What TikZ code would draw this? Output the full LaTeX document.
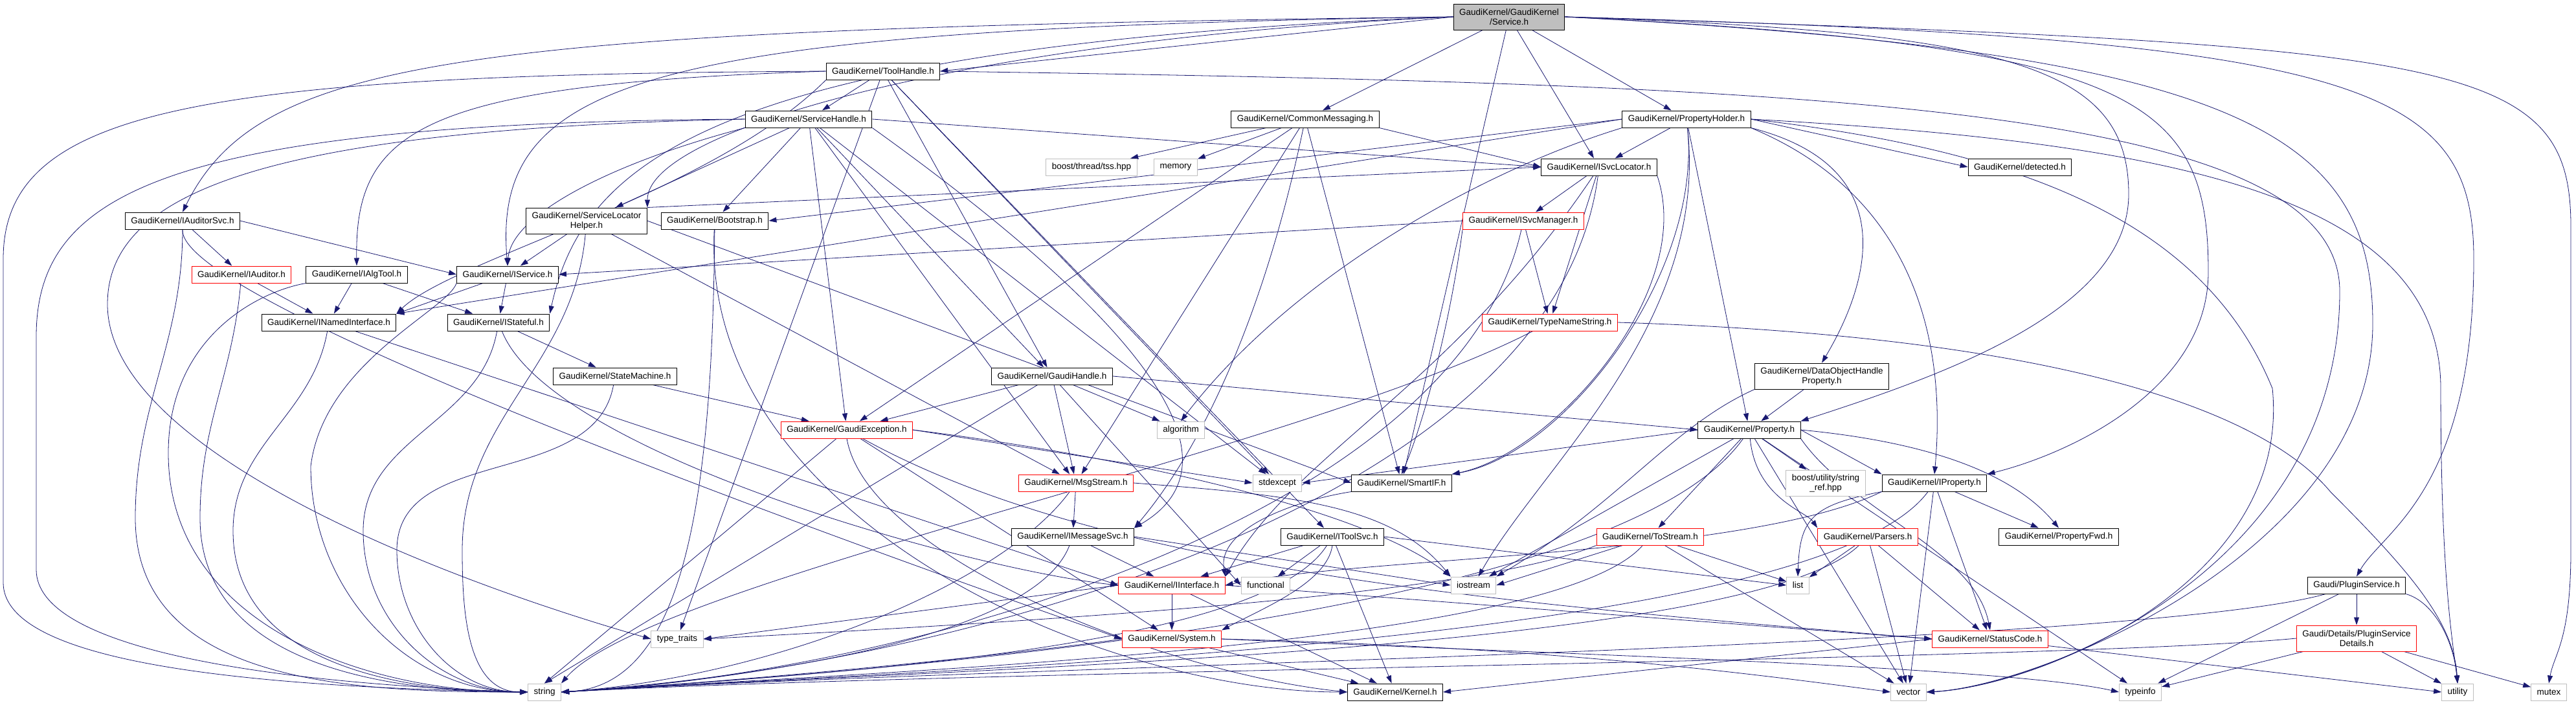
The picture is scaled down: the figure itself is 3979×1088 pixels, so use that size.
\documentclass[tikz,border=0pt]{standalone}
\usepackage{fontspec}
\setmainfont{Liberation Sans}
\usetikzlibrary{arrows.meta}
\definecolor{inclblue}{RGB}{25,25,112}
\definecolor{sysgray}{RGB}{191,191,191}
\pgfdeclarelayer{bg}
\pgfsetlayers{bg,main}

\tikzset{
  hfile/.style={draw=black, line width=1pt, rectangle, fill=white, align=center,
    font=\fontsize{13.5}{15}\selectfont, inner xsep=9pt, inner ysep=0pt, minimum height=26pt},
  sysfile/.style={hfile, draw=sysgray},
  cutfile/.style={hfile, draw=red},
  rootfile/.style={hfile, fill=sysgray},
  twoline/.style={minimum height=40pt},
  incl/.style={draw=inclblue, line width=0.8pt, -{Triangle[length=12pt,width=8pt]}},
}

\begin{document}
\begin{tikzpicture}[x=1pt, y=-1pt]
\useasboundingbox (0,0) rectangle (3979,1088);

% rank 0-2
\node[rootfile, twoline] (svc) at (2331,26) {GaudiKernel/GaudiKernel\\/Service.h};
\node[hfile] (toolh) at (1364,110) {GaudiKernel/ToolHandle.h};
\node[hfile] (svch) at (1249,184) {GaudiKernel/ServiceHandle.h};
\node[hfile] (cmsg) at (2016,184) {GaudiKernel/CommonMessaging.h};
\node[hfile] (prph) at (2605,184) {GaudiKernel/PropertyHolder.h};

% rank 3-4
\node[sysfile] (tss) at (1686,258) {boost/thread/tss.hpp};
\node[sysfile] (memory) at (1816,258) {memory};
\node[hfile] (isvcloc) at (2470,258) {GaudiKernel/ISvcLocator.h};
\node[hfile] (detected) at (3120,258) {GaudiKernel/detected.h};
\node[hfile] (auditsvc) at (282,341) {GaudiKernel/IAuditorSvc.h};
\node[hfile, twoline] (slh) at (906,341) {GaudiKernel/ServiceLocator\\Helper.h};
\node[hfile] (boot) at (1104,341) {GaudiKernel/Bootstrap.h};
\node[cutfile] (isvcman) at (2353,341) {GaudiKernel/ISvcManager.h};

% rank 5-6
\node[cutfile] (iauditor) at (373,424) {GaudiKernel/IAuditor.h};
\node[hfile] (ialgtool) at (551,424) {GaudiKernel/IAlgTool.h};
\node[hfile] (iservice) at (784,424) {GaudiKernel/IService.h};
\node[hfile] (inamed) at (508,498) {GaudiKernel/INamedInterface.h};
\node[hfile] (istateful) at (770,498) {GaudiKernel/IStateful.h};
\node[cutfile] (typens) at (2394,498) {GaudiKernel/TypeNameString.h};

% rank 7-8
\node[hfile] (statem) at (950,581) {GaudiKernel/StateMachine.h};
\node[hfile] (gaudih) at (1625,581) {GaudiKernel/GaudiHandle.h};
\node[hfile, twoline] (dohp) at (2814,581) {GaudiKernel/DataObjectHandle\\Property.h};
\node[cutfile] (gexc) at (1308,664) {GaudiKernel/GaudiException.h};
\node[sysfile] (algorithm) at (1824,664) {algorithm};
\node[hfile] (property) at (2702,664) {GaudiKernel/Property.h};

% rank 9-10
\node[cutfile] (msgs) at (1662,746) {GaudiKernel/MsgStream.h};
\node[sysfile] (stdexcept) at (1973,746) {stdexcept};
\node[hfile] (smartif) at (2165,746) {GaudiKernel/SmartIF.h};
\node[sysfile, twoline] (strref) at (2820,746) {boost/utility/string\\\_ref.hpp};
\node[hfile] (iprop) at (2988,746) {GaudiKernel/IProperty.h};
\node[hfile] (imsgsvc) at (1657,829) {GaudiKernel/IMessageSvc.h};
\node[hfile] (itoolsvc) at (2058,829) {GaudiKernel/IToolSvc.h};
\node[cutfile] (tostream) at (2549,829) {GaudiKernel/ToStream.h};
\node[cutfile] (parsers) at (2885,829) {GaudiKernel/Parsers.h};
\node[hfile] (propfwd) at (3180,829) {GaudiKernel/PropertyFwd.h};

% rank 11-13
\node[cutfile] (iinterface) at (1810,904) {GaudiKernel/IInterface.h};
\node[sysfile] (functional) at (1955,904) {functional};
\node[sysfile] (iostream) at (2276,904) {iostream};
\node[sysfile] (list) at (2777,904) {list};
\node[hfile] (pluginsvc) at (3640,904) {Gaudi/PluginService.h};
\node[sysfile] (typetraits) at (1046,987) {type\_traits};
\node[cutfile] (system) at (1810,987) {GaudiKernel/System.h};
\node[cutfile] (statuscode) at (3074,987) {GaudiKernel/StatusCode.h};
\node[cutfile, twoline] (plugindet) at (3640,986) {Gaudi/Details/PluginService\\Details.h};
\node[sysfile] (string) at (841,1069) {string};
\node[hfile] (kernel) at (2155,1069) {GaudiKernel/Kernel.h};
\node[sysfile] (vector) at (2948,1069) {vector};
\node[sysfile] (typeinfo) at (3306,1069) {typeinfo};
\node[sysfile] (utility) at (3796,1069) {utility};
\node[sysfile] (mutex) at (3937,1069) {mutex};

\begin{pgfonlayer}{bg}
% Service.h
\draw[incl] (svc.west) -- (toolh.east);
\draw[incl] (svc) -- (cmsg);
\draw[incl] (svc) -- (prph);
\draw[incl] (svc) -- (isvcloc);
\draw[incl] (svc) -- (smartif);
\draw[incl] (svc.west) .. controls (700,45) and (400,90) .. (auditsvc.north);
\draw[incl] (svc.west) .. controls (1000,45) and (760,120) .. (iservice.north);
\draw[incl] (svc.west) .. controls (1100,70) and (900,250) .. (istateful.north east);
\draw[incl] (svc.west) .. controls (1500,60) and (1000,200) .. (slh.north east);
\draw[incl] (svc.east) .. controls (3100,50) and (3288,100) .. (3288,300) .. controls (3288,480) and (3000,580) .. (property.north east);
\draw[incl] (svc.east) .. controls (3300,70) and (3411,150) .. (3411,420) .. controls (3411,600) and (3200,700) .. (iprop.north east);
\draw[incl] (svc.east) .. controls (3450,80) and (3665,200) .. (3665,500) .. controls (3665,850) and (3150,1060) .. (vector.east);
\draw[incl] (svc.east) .. controls (3650,60) and (3821,130) .. (3821,400) .. controls (3821,760) and (3680,820) .. (pluginsvc.north);
\draw[incl] (svc.east) .. controls (3800,70) and (3971,90) .. (3971,350) -- (3971,850) .. controls (3971,990) and (3945,1010) .. (mutex.north);

% ToolHandle.h
\draw[incl] (toolh) -- (svch);
\draw[incl] (toolh.west) .. controls (650,130) and (548,200) .. (ialgtool.north);
\draw[incl] (toolh.west) .. controls (300,115) and (5,170) .. (5,400) -- (5,900) .. controls (5,1010) and (300,1060) .. (string.west);
\draw[incl] (toolh) -- (gaudih);
\draw[incl] (toolh) -- (itoolsvc);
\draw[incl] (toolh.south west) .. controls (1100,300) and (700,400) .. (inamed.north east);
\draw[incl] (toolh) -- (stdexcept);
\draw[incl] (toolh) -- (typetraits);
\draw[incl] (toolh.east) .. controls (2800,130) and (3614,160) .. (3614,450) .. controls (3614,880) and (3150,1060) .. (vector.east);

% ServiceHandle.h
\draw[incl] (svch) -- (boot);
\draw[incl] (svch) -- (slh);
\draw[incl] (svch) -- (gaudih);
\draw[incl] (svch) -- (gexc);
\draw[incl] (svch) -- (msgs);
\draw[incl] (svch.south east) .. controls (1700,450) and (1950,700) .. (imsgsvc.north east);
\draw[incl] (svch.east) -- (isvcloc.west);
\draw[incl] (svch.south west) .. controls (950,250) and (790,330) .. (iservice.north);
\draw[incl] (svch) -- (stdexcept);
\draw[incl] (svch.west) .. controls (250,190) and (56,300) .. (56,520) -- (56,880) .. controls (56,1000) and (400,1055) .. (string.west);
\draw[incl] (svch.west) .. controls (400,200) and (166,300) .. (166,470) .. controls (166,700) and (700,900) .. (typetraits.west);

% CommonMessaging.h
\draw[incl] (cmsg) -- (tss);
\draw[incl] (cmsg) -- (memory);
\draw[incl] (cmsg.south east) -- (isvcloc.west);
\draw[incl] (cmsg) -- (gexc);
\draw[incl] (cmsg) -- (msgs);
\draw[incl] (cmsg) .. controls (1950,500) and (1850,700) .. (imsgsvc.north east);
\draw[incl] (cmsg) -- (smartif);

% PropertyHolder.h
\draw[incl] (prph) -- (isvcloc);
\draw[incl] (prph.east) -- (detected.west);
\draw[incl] (prph.south east) .. controls (2950,260) and (2880,450) .. (dohp.north);
\draw[incl] (prph) -- (property);
\draw[incl] (prph.south east) .. controls (3000,320) and (3000,600) .. (iprop.north);
\draw[incl] (prph.west) -- (boot.east);
\draw[incl] (prph.west) -- (inamed.north east);
\draw[incl] (prph.south west) .. controls (2300,260) and (2000,420) .. (algorithm.north);
\draw[incl] (prph) .. controls (2640,500) and (2380,720) .. (iostream);
\draw[incl] (prph) .. controls (2630,420) and (2420,700) .. (smartif.north east);
\draw[incl] (prph.east) .. controls (3350,220) and (3770,300) .. (3770,600) .. controls (3770,900) and (3790,1000) .. (utility.north);
\draw[incl] (prph.east) .. controls (3100,230) and (3400,330) .. (3510,600) .. controls (3540,900) and (3150,1060) .. (vector.east);

% ISvcLocator.h, ISvcManager.h
\draw[incl] (isvcloc) -- (isvcman);
\draw[incl] (isvcloc) -- (typens);
\draw[incl] (isvcloc.south east) .. controls (2620,450) and (2400,700) .. (smartif.north east);
\draw[incl] (isvcloc) .. controls (2240,600) and (2000,700) .. (iinterface.north east);
\draw[incl] (isvcloc) .. controls (2400,800) and (1400,1040) .. (string.east);
\draw[incl] (isvcman.west) -- (iservice.east);
\draw[incl] (isvcman) -- (typens);
\draw[incl] (isvcman.south west) .. controls (2240,500) and (2200,650) .. (smartif.north);
\draw[incl] (isvcman) .. controls (2250,800) and (1400,1040) .. (string.east);

% IAuditorSvc.h and the interfaces
\draw[incl] (auditsvc) -- (iauditor);
\draw[incl] (auditsvc.east) -- (iservice.west);
\draw[incl] (auditsvc) to[out=-90,in=90] (209,800) to[out=-90,in=180] (string.west);
\draw[incl] (auditsvc.south) .. controls (275,450) and (1000,730) .. (system.west);
\draw[incl] (iauditor) -- (inamed);
\draw[incl] (iauditor) to[out=-95,in=90] (309,800) to[out=-90,in=180] (string.west);
\draw[incl] (ialgtool) -- (inamed);
\draw[incl] (ialgtool) -- (istateful);
\draw[incl] (ialgtool.south west) .. controls (400,450) and (260,520) .. (260,700) to[out=-90,in=180] (string.west);
\draw[incl] (iservice) -- (inamed.north east);
\draw[incl] (iservice) -- (istateful);
\draw[incl] (iservice.south west) .. controls (690,480) and (500,560) .. (480,720) to[out=-90,in=180] (string.west);
\draw[incl] (inamed) -- (iinterface.west);
\draw[incl] (inamed) to[out=-100,in=90] (360,820) to[out=-90,in=180] (string.west);
\draw[incl] (istateful) -- (statem);
\draw[incl] (istateful) .. controls (850,700) and (1500,880) .. (iinterface.west);
\draw[incl] (istateful) to[out=-100,in=90] (561,820) to[out=-90,in=180] (string.west);
\draw[incl] (statem) -- (gexc);
\draw[incl] (statem) to[out=-100,in=90] (613,850) to[out=-90,in=180] (string.west);

% Bootstrap.h, ServiceLocatorHelper.h, TypeNameString.h
\draw[incl] (boot) .. controls (1100,800) and (1050,1060) .. (string.east);
\draw[incl] (boot) .. controls (1080,800) and (1700,1069) .. (kernel.west);
\draw[incl] (slh) -- (iservice);
\draw[incl] (slh.north east) -- (isvcloc.west);
\draw[incl] (slh) -- (msgs);
\draw[incl] (slh.east) -- (smartif.west);
\draw[incl] (slh) to[out=-95,in=90] (714,850) to[out=-90,in=180] (string.west);
\draw[incl] (typens) .. controls (2000,700) and (1000,900) .. (string.north east);
\draw[incl] (typens.east) .. controls (3200,520) and (3500,640) .. (3600,760) .. controls (3720,880) and (3790,960) .. (utility.north);

% GaudiHandle.h, GaudiException.h
\draw[incl] (gaudih) -- (gexc);
\draw[incl] (gaudih) -- (algorithm);
\draw[incl] (gaudih.east) -- (property.west);
\draw[incl] (gaudih) -- (msgs);
\draw[incl] (gaudih) -- (functional.west);
\draw[incl] (gaudih) -- (string.north);
\draw[incl] (gexc) -- (system);
\draw[incl] (gexc.south) .. controls (1340,860) and (1800,1040) .. (kernel.west);
\draw[incl] (gexc) -- (string.north);
\draw[incl] (gexc.east) .. controls (1700,700) and (2100,780) .. (iostream.north west);
\draw[incl] (gexc.east) -- (stdexcept.west);
\draw[incl] (gexc) .. controls (1700,880) and (2300,930) .. (statuscode.west);

% DataObjectHandleProperty.h, Property.h
\draw[incl] (dohp) -- (property);
\draw[incl] (dohp.south west) .. controls (2580,660) and (2500,780) .. (iostream.north east);
\draw[incl] (property) -- (strref);
\draw[incl] (property.east) -- (iprop.north west);
\draw[incl] (property.east) .. controls (2950,680) and (3100,720) .. (propfwd.north);
\draw[incl] (property) -- (tostream);
\draw[incl] (property) .. controls (2712,770) and (2790,790) .. (parsers.north west);
\draw[incl] (property) -- (iostream);
\draw[incl] (property.west) -- (stdexcept.east);
\draw[incl] (property) -- (vector);
\draw[incl] (property) -- (typeinfo);
\draw[incl] (property.south east) .. controls (2860,790) and (3050,850) .. (statuscode.north);
\draw[incl] (property) .. controls (2500,950) and (1400,1035) .. (string.east);

% IProperty.h, SmartIF.h
\draw[incl] (iprop) -- (propfwd);
\draw[incl] (iprop) -- (statuscode);
\draw[incl] (iprop.south west) .. controls (2700,860) and (2100,860) .. (iinterface.east);
\draw[incl] (iprop.south west) .. controls (2800,780) and (2780,800) .. (list.north);
\draw[incl] (iprop) -- (vector);
\draw[incl] (iprop) .. controls (2800,1000) and (1400,1035) .. (string.east);
\draw[incl] (smartif.south west) .. controls (1990,775) and (1880,820) .. (iinterface.north east);

% MsgStream.h, IMessageSvc.h, IToolSvc.h
\draw[incl] (msgs) -- (imsgsvc);
\draw[incl] (msgs.east) .. controls (2000,765) and (2150,780) .. (iostream.north west);
\draw[incl] (msgs) .. controls (1550,900) and (1200,1045) .. (string.east);
\draw[incl] (imsgsvc) -- (iinterface);
\draw[incl] (imsgsvc.east) -- (iostream.west);
\draw[incl] (imsgsvc) .. controls (1600,980) and (1200,1045) .. (string.east);
\draw[incl] (itoolsvc) -- (iinterface);
\draw[incl] (itoolsvc) -- (functional);
\draw[incl] (itoolsvc.east) -- (list.west);
\draw[incl] (itoolsvc.south) .. controls (2050,900) and (1950,940) .. (system.north east);
\draw[incl] (itoolsvc) -- (kernel);
\draw[incl] (itoolsvc) .. controls (1950,1000) and (1300,1040) .. (string.east);

% ToStream.h, Parsers.h
\draw[incl] (tostream) -- (iostream.east);
\draw[incl] (tostream) -- (list);
\draw[incl] (tostream) -- (vector);
\draw[incl] (tostream.south west) .. controls (2300,910) and (1800,950) .. (typetraits.east);
\draw[incl] (tostream) .. controls (2400,1000) and (1400,1035) .. (string.east);
\draw[incl] (parsers) -- (list);
\draw[incl] (parsers) -- (vector);
\draw[incl] (parsers) -- (statuscode);
\draw[incl] (parsers) .. controls (2700,1010) and (1400,1035) .. (string.east);

% IInterface.h, System.h, StatusCode.h
\draw[incl] (iinterface) -- (system);
\draw[incl] (iinterface.west) -- (typetraits.east);
\draw[incl] (iinterface) -- (kernel);
\draw[incl] (iinterface.east) -- (statuscode.west);
\draw[incl] (system) -- (kernel);
\draw[incl] (system.west) .. controls (1500,1020) and (1100,1055) .. (string.east);
\draw[incl] (system.east) .. controls (2400,1010) and (3100,1030) .. (typeinfo.west);
\draw[incl] (system.east) .. controls (2400,1000) and (2700,1040) .. (vector.west);
\draw[incl] (statuscode.west) -- (kernel.east);
\draw[incl] (statuscode) -- (utility.west);

% Gaudi/PluginService.h
\draw[incl] (pluginsvc) -- (plugindet);
\draw[incl] (pluginsvc) -- (typeinfo);
\draw[incl] (pluginsvc.south east) .. controls (3760,930) and (3790,990) .. (utility.north);
\draw[incl] (pluginsvc) .. controls (3300,1000) and (1500,1030) .. (string.east);
\draw[incl] (plugindet) -- (typeinfo);
\draw[incl] (plugindet) -- (utility);
\draw[incl] (plugindet) -- (mutex);
\draw[incl] (plugindet.west) .. controls (3200,1020) and (1500,1035) .. (string.east);
\end{pgfonlayer}
\end{tikzpicture}
\end{document}
